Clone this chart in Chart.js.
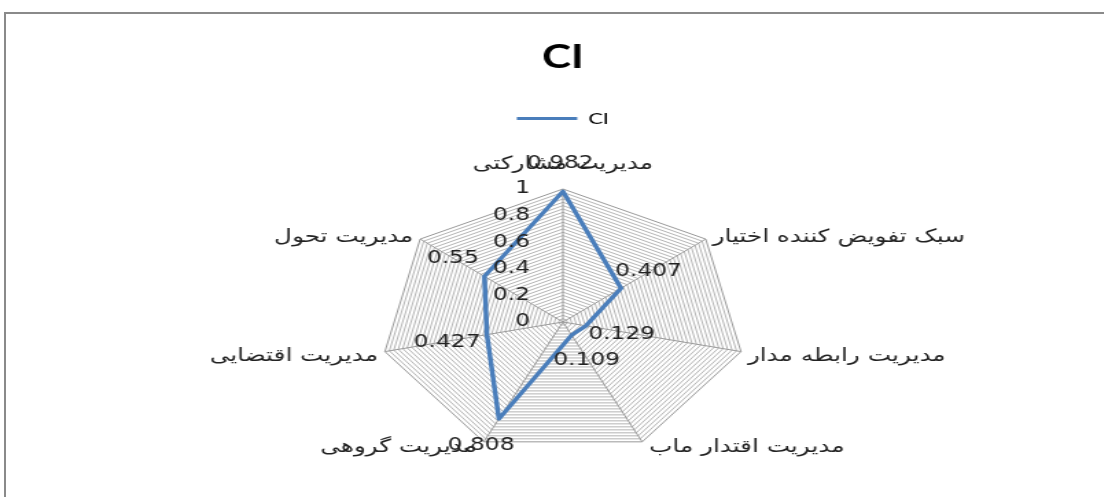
<!DOCTYPE html>
<html>
<head>
<meta charset="utf-8">
<script src="https://cdn.jsdelivr.net/npm/chart.js@4.4.1/dist/chart.umd.min.js"></script>
<style>
  html, body { margin: 0; padding: 0; background: #fff; overflow: hidden; }
  body { width: 1104px; height: 497px; position: relative; }
  /* the original picture is stretched sideways, so the chart is drawn narrow and scaled */
  #wrap { position: absolute; left: 0; top: 0; width: 820px; height: 497px; transform: scaleX(1.373); transform-origin: 0 0; }
  #frame { position: absolute; left: 4px; top: 12px; width: 1130px; height: 520px; border: 2px solid #8a8a8a; box-sizing: border-box; pointer-events: none; }
</style>
</head>
<body>
<div id="wrap"><canvas id="myChart" width="820" height="497"></canvas></div>
<div id="frame"></div>
<script>
const categories = [
  'مدیریت مشارکتی',
  'سبک تفویض کننده اختیار',
  'مدیریت رابطه مدار',
  'مدیریت اقتدار ماب',
  'مدیریت گروهی',
  'مدیریت اقتضایی',
  'مدیریت تحول'
];
const ciValues = [0.982, 0.407, 0.129, 0.109, 0.808, 0.427, 0.55];
const tickLabels = [0, 0.2, 0.4, 0.6, 0.8, 1];

const blue = '#4a7ebb';
const textColor = '#222222';

// Excel style labels: axis ticks left of the spoke, category names and data values
const radarText = {
  id: 'radarText',
  afterDatasetsDraw(chart, args, opts) {
    const scale = chart.scales.r;
    const ctx = chart.ctx;
    ctx.save();
    ctx.fillStyle = textColor;
    ctx.textBaseline = 'middle';

    // tick labels
    ctx.font = '17px "DejaVu Sans"';
    ctx.textAlign = 'right';
    tickLabels.forEach(v => {
      const d = scale.getDistanceFromCenterForValue(v);
      ctx.fillText(String(v), scale.xCenter - 24, scale.yCenter - d);
    });

    // category names
    ctx.font = '18px "DejaVu Sans"';
    categories.forEach((name, i) => {
      const p = scale.getPointPositionForValue(i, scale.max);
      if (Math.abs(p.x - scale.xCenter) < 2) {
        ctx.textAlign = 'center';
        ctx.fillText(name, p.x, p.y - 25);
      } else if (p.x > scale.xCenter) {
        ctx.textAlign = 'left';
        ctx.fillText(name, p.x + 5, p.y + (p.y > scale.yCenter ? 5 : -2));
      } else {
        ctx.textAlign = 'right';
        ctx.fillText(name, p.x - 5, p.y + (p.y > scale.yCenter ? 5 : -2));
      }
    });

    // data values
    ctx.font = '17px "DejaVu Sans"';
    ctx.textAlign = 'center';
    ciValues.forEach((v, i) => {
      const p = scale.getPointPositionForValue(i, v);
      const off = opts.offsets[i];
      ctx.fillText(String(v), p.x + off[0], p.y + off[1]);
    });
    ctx.restore();
  }
};

// extra room between the legend and the plot
const legendGap = {
  id: 'legendGap',
  beforeInit(chart) {
    const fit = chart.legend.fit;
    chart.legend.fit = function () {
      fit.bind(chart.legend)();
      this.height += 52;
    };
  }
};

const ctx = document.getElementById('myChart').getContext('2d');
const myChart = new Chart(ctx, {
  type: 'radar',
  data: {
    labels: categories,
    datasets: [{
      label: 'CI',
      data: ciValues,
      borderColor: blue,
      backgroundColor: blue,
      borderWidth: 3.5,
      borderJoinStyle: 'round',
      fill: false,
      pointRadius: 0,
      pointHoverRadius: 0
    }]
  },
  plugins: [radarText, legendGap],
  options: {
    responsive: false,
    animation: false,
    layout: { padding: { top: 0, bottom: 41, left: 0, right: 0 } },
    scales: {
      r: {
        min: 0,
        max: 1,
        ticks: { display: false, stepSize: 0.025 },
        pointLabels: { display: false },
        grid: {
          color: (c) => c.index === 40 ? '#999999' : '#b4b4b4',
          lineWidth: 1
        },
        angleLines: { color: '#999999', lineWidth: 1 }
      }
    },
    plugins: {
      title: {
        display: true,
        text: 'CI',
        color: '#000',
        font: { family: 'Lato', size: 32, weight: 'bold' },
        padding: { top: 38, bottom: 24 }
      },
      legend: {
        position: 'top',
        labels: {
          color: '#222',
          font: { family: 'Lato', size: 16 },
          boxWidth: 44,
          boxHeight: 3,
          padding: 10,
          generateLabels: (chart) => [{
            text: 'CI',
            fillStyle: blue,
            strokeStyle: blue,
            lineWidth: 0,
            datasetIndex: 0
          }]
        }
      },
      tooltip: { enabled: false },
      radarText: {
        offsets: [[-2, -28], [20, -17], [26, 9], [11, 26], [-13, 27], [-29, 8], [-23, -18]]
      }
    }
  }
});
</script>
</body>
</html>
